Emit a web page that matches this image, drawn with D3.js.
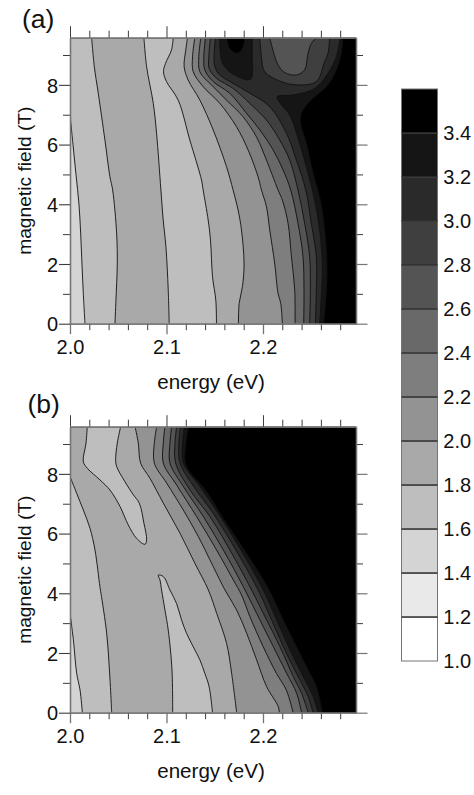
<!DOCTYPE html>
<html><head><meta charset="utf-8">
<style>html,body{margin:0;padding:0;background:#fff}svg{display:block}text{font-family:"Liberation Sans",Arial,sans-serif;fill:#111}</style>
<script src="https://cdn.jsdelivr.net/npm/d3@7"></script></head><body>
<svg id="c" width="474" height="795"></svg>
<script>
const E_MIN=2.0,E_MAX=2.2964,B_MAX=9.58;
const levels=[1.2,1.4,1.6,1.8,2.0,2.2,2.4,2.6,2.8,3.0,3.2,3.4];
const greys=["#ffffff","#e9e9e9","#d4d4d4","#bebebe","#a9a9a9","#939393","#7e7e7e","#696969","#545454","#3f3f3f","#2a2a2a","#151515","#000000"];
const majorE=[2.0,2.1,2.2];
const minorE=[2.02,2.04,2.06,2.08,2.12,2.14,2.16,2.18,2.22,2.24,2.26,2.28];
const majorB=[0,2,4,6,8];
const minorB=[1,3,5,7,9];
const barLabels=[1.0,1.2,1.4,1.6,1.8,2.0,2.2,2.4,2.6,2.8,3.0,3.2,3.4];

// panel (a) contours: [energy, field]
const a16=[[2.0155,0],[2.0138,1],[2.0124,2],[2.0111,3],[2.0093,4],[2.0062,5],[2.0031,6],[2.0,7]];
const a18a=[[2.0466,0],[2.0476,.79],[2.049,2],[2.0483,3.04],[2.0442,4.48],[2.0414,4.92],[2.0362,6.15],[2.0293,7.72],[2.0252,8.61],[2.0224,9.58]];
const a18b=[[2.1028,0],[2.1018,1.13],[2.0994,2.58],[2.0966,3.47],[2.0942,4.48],[2.0897,6.38],[2.0863,7.38],[2.0794,8.61],[2.0766,9.58]];
const a18c=[[2.1518,0],[2.1511,.79],[2.1477,1.57],[2.1456,2.8],[2.1432,3.47],[2.138,4.48],[2.1363,4.81],[2.1242,6.15],[2.1121,7.49],[2.1,8.11],[2.0969,8.44],[2.099,8.72],[2.1052,9.17],[2.107,9.58]];
const a20=[[2.1746,0],[2.1753,.68],[2.1787,1.24],[2.1804,2],[2.1777,3.14],[2.1742,3.81],[2.169,4.48],[2.1622,5.26],[2.1484,6.49],[2.1346,7.49],[2.1225,8.16],[2.1183,8.61],[2.12,9.17],[2.1218,9.58]];
const a22=[[2.2201,0],[2.2184,.68],[2.2156,1.02],[2.2122,2],[2.207,3.14],[2.2036,3.92],[2.1984,4.48],[2.1949,4.92],[2.1846,5.82],[2.1725,6.6],[2.1553,7.38],[2.138,7.94],[2.1277,8.44],[2.127,8.94],[2.1294,9.58]];
const a24=[[2.2332,0],[2.2329,1.13],[2.2295,2.24],[2.226,3.36],[2.2201,4.14],[2.2156,4.48],[2.2036,5.48],[2.1932,6.26],[2.1794,6.93],[2.1622,7.49],[2.1484,7.94],[2.1346,8.44],[2.1335,8.94],[2.1356,9.58]];
const a26=[[2.2422,0],[2.2425,1.13],[2.2415,2.24],[2.2363,3.36],[2.2287,4.48],[2.2208,5.15],[2.2105,5.82],[2.1967,6.49],[2.1829,7.05],[2.1656,7.72],[2.1484,8.11],[2.1397,8.5],[2.1387,8.94],[2.1404,9.58]];
const a28=[[2.2484,0],[2.2491,1.13],[2.2484,2.24],[2.2432,3.36],[2.2363,4.48],[2.2277,5.48],[2.2174,6.15],[2.2036,6.82],[2.1863,7.38],[2.1691,7.88],[2.1518,8.22],[2.1442,8.55],[2.1439,8.94],[2.1456,9.58]];
const a30=[[2.2543,0],[2.2553,1.13],[2.2553,2.24],[2.2501,3.36],[2.2443,4.48],[2.2346,5.48],[2.2243,6.38],[2.207,7.27],[2.1863,7.72],[2.1691,8.05],[2.1553,8.33],[2.1501,8.61],[2.1494,9.06],[2.1508,9.58]];
const a30valley=[[2.1967,9.58],[2.1984,8.94],[2.2018,8.44],[2.2174,8.13],[2.2346,8.0],[2.2553,8.11],[2.2639,8.78],[2.2674,9.06],[2.2691,9.58]];
const a28valley=[[2.207,9.58],[2.2156,8.67],[2.2226,8.41],[2.2346,8.33],[2.2432,8.5],[2.2467,9.06],[2.2501,9.39],[2.2553,9.58]];
const a32peak=[[2.1553,9.58],[2.1581,8.72],[2.1691,8.36],[2.1871,8.19],[2.1888,8.94],[2.1888,9.58]];
const a34peak=[[2.1622,9.58],[2.1656,9.22],[2.1725,9.06],[2.1787,9.22],[2.1811,9.58]];
const a32=[[2.2587,0],[2.2608,1.13],[2.2615,2],[2.2587,3.14],[2.2536,4.14],[2.2467,5.04],[2.238,6.04],[2.2277,6.99],[2.2191,7.33],[2.2146,7.6],[2.2312,7.66],[2.2536,7.88],[2.2674,8.39],[2.276,8.94],[2.2801,9.58]];
const a34=[[2.2629,0],[2.2657,1.13],[2.2663,2],[2.2639,3.14],[2.2594,4.14],[2.2519,5.04],[2.245,6.04],[2.2391,6.71],[2.2398,7.05],[2.2484,7.44],[2.2674,8],[2.276,8.5],[2.2812,9.06],[2.2829,9.58]];

// panel (b) contours: [energy, field]
const b16=[[2.0128,0],[2.0104,.76],[2.0069,1.32],[2.0035,2.44],[2.0,3.33]];
const b18=[[2.0432,0],[2.0415,1.09],[2.038,2.66],[2.0321,4.0],[2.031,4.22],[2.0259,5.45],[2.0207,6.18],[2.0138,6.79],[2.0069,7.35],[2.0,7.91]];
const b18top=[[2.0179,9.58],[2.0166,9.03],[2.0138,8.41],[2.0179,8.19],[2.031,7.8],[2.0414,7.46],[2.0518,6.91],[2.0604,6.29],[2.069,5.84],[2.0777,5.64],[2.0794,5.79],[2.0766,6.35],[2.0718,7.02],[2.0656,7.3],[2.0569,7.74],[2.0483,8.25],[2.0473,8.47],[2.049,9.03],[2.0525,9.58]];
const b18low=[[2.1064,0],[2.1057,1.43],[2.1018,2.77],[2.0984,3.44],[2.0949,4.11],[2.0932,4.45],[2.0915,4.61],[2.0967,4.56],[2.1036,4.11],[2.1104,3.66],[2.1156,3.11],[2.1208,2.66],[2.1277,2.21],[2.1346,1.77],[2.1397,1.32],[2.1442,.87],[2.1477,0]];
const b20=[[2.1727,0],[2.1675,1.32],[2.1623,2.32],[2.152,3.33],[2.1434,4.11],[2.1295,5.0],[2.114,6.01],[2.0967,7.02],[2.0829,7.85],[2.0732,8.36],[2.0708,9.03],[2.0674,9.58]];
const b22=[[2.2169,0],[2.2159,.2],[2.2038,.87],[2.1934,1.77],[2.1831,2.66],[2.1727,3.44],[2.1606,4.11],[2.1485,4.89],[2.133,5.9],[2.1174,6.79],[2.1002,7.69],[2.0874,8.36],[2.0874,9.03],[2.0898,9.58]];
const b24=[[2.2312,0],[2.2242,.76],[2.2139,1.32],[2.2002,2.21],[2.1864,3.22],[2.1778,3.94],[2.1692,4.45],[2.1519,5.45],[2.1312,6.57],[2.1104,7.63],[2.0967,8.36],[2.0967,9.03],[2.0984,9.58]];
const b26=[[2.24,0],[2.2349,.65],[2.2245,1.32],[2.2107,2.21],[2.1934,3.33],[2.1796,4.22],[2.1589,5.45],[2.1382,6.57],[2.1174,7.58],[2.1036,8.36],[2.1036,9.03],[2.1053,9.58]];
const b28=[[2.2469,0],[2.24,.65],[2.2314,1.21],[2.2176,2.21],[2.2037,3.11],[2.1882,4.11],[2.1657,5.45],[2.145,6.57],[2.1243,7.46],[2.1095,8.36],[2.1088,9.03],[2.1105,9.58]];
const b30=[[2.2519,0],[2.2468,.54],[2.2364,1.21],[2.2243,1.99],[2.2105,2.99],[2.195,4.11],[2.1708,5.51],[2.1484,6.68],[2.1295,7.52],[2.114,8.36],[2.1129,9.03],[2.1146,9.58]];
const b32=[[2.2572,0],[2.252,.54],[2.2417,1.21],[2.2296,1.99],[2.2158,2.99],[2.2002,4.11],[2.176,5.51],[2.1536,6.68],[2.1346,7.58],[2.1174,8.36],[2.1167,9.03],[2.1184,9.58]];
const b34=[[2.2616,0],[2.2554,.87],[2.2468,1.43],[2.2347,2.21],[2.2209,3.11],[2.2054,4.17],[2.1795,5.51],[2.1588,6.51],[2.1415,7.41],[2.1202,8.3],[2.1202,9.03],[2.1226,9.58]];

// painter's order: which contour, the value on its high side, how it closes
const layersA=[[a16,1.7,"wide"],[a18a,1.9,"right"],[a18b,1.7,"right"],[a18c,1.9,"right"],[a20,2.1,"right"],[a22,2.3,"right"],[a24,2.5,"right"],[a26,2.7,"right"],[a28,2.9,"right"],[a30,3.1,"right"],[a30valley,2.9,"self"],[a28valley,2.7,"self"],[a32peak,3.3,"self"],[a34peak,3.5,"self"],[a32,3.3,"right"],[a34,3.5,"right"]];
const layersB=[[b16,1.7,"wide"],[b18,1.9,"wide"],[b18top,1.7,"self"],[b18low,1.7,"self"],[b20,2.1,"right"],[b22,2.3,"right"],[b24,2.5,"right"],[b26,2.7,"right"],[b28,2.9,"right"],[b30,3.1,"right"],[b32,3.3,"right"],[b34,3.5,"right"]];

const svg=d3.select("#c");
const color=d3.scaleThreshold().domain(levels).range(greys);
const FRAME="#757575", TICK="#3c3c3c", INK="#111";
const FS=20;

function panel(layers,yBottom,yTop,tag,tagX,tagBase,xLabBase,eLabBase,clipId){
  const x=d3.scaleLinear().domain([E_MIN,E_MAX]).range([70,356]);
  const y=d3.scaleLinear().domain([0,B_MAX]).range([yBottom,yTop]);
  const g=svg.append("g");
  g.append("clipPath").attr("id",clipId).append("rect").attr("x",x(E_MIN)).attr("y",yTop).attr("width",x(E_MAX)-x(E_MIN)).attr("height",yBottom-yTop);
  const plot=g.append("g").attr("clip-path",`url(#${clipId})`);
  plot.append("rect").attr("x",x(E_MIN)).attr("y",yTop).attr("width",x(E_MAX)-x(E_MIN)).attr("height",yBottom-yTop).attr("fill",color(1.5));
  const line=d3.line().x(d=>x(d[0])).y(d=>y(d[1])).curve(d3.curveCatmullRom.alpha(0.5));
  const closers={
    wide:[[E_MIN,B_MAX],[E_MAX,B_MAX],[E_MAX,0]],
    right:[[E_MAX,B_MAX],[E_MAX,0]],
    self:[]
  };
  layers.forEach(([pts,val,kind])=>{
    const extra=closers[kind].map(p=>`L${x(p[0])},${y(p[1])}`).join("");
    plot.append("path").attr("d",line(pts)+extra+"Z").attr("fill",color(val)).attr("stroke","none");
    plot.append("path").attr("d",line(pts)).attr("fill","none").attr("stroke",INK).attr("stroke-width",0.9);
  });
  function axis(gen,tx,ty,vals,size,labels,stroke,sw){
    const a=g.append("g").attr("transform",`translate(${tx},${ty})`)
      .call(gen.tickValues(vals).tickSize(size).tickSizeOuter(0).tickPadding(labels?3:0).tickFormat(labels||""));
    a.selectAll("line").attr("stroke",stroke||TICK).attr("stroke-width",sw||1);
    a.selectAll("path").attr("stroke",FRAME).attr("stroke-width",1.3);
    return a;
  }
  axis(d3.axisBottom(x),0,yBottom,minorE,6.5);
  axis(d3.axisTop(x),0,yTop,minorE,7);
  axis(d3.axisLeft(y),70,0,minorB,7);
  axis(d3.axisRight(y),356,0,minorB,7);
  axis(d3.axisTop(x),0,yTop,majorE,11.5);
  axis(d3.axisRight(y),356,0,majorB,11.5,null,FRAME,1.2);
  const xa=axis(d3.axisBottom(x),0,yBottom,majorE,10.5,d3.format(".1f"),FRAME,1.3);
  xa.selectAll("text").attr("font-size",FS).attr("y",null).attr("dy",null).attr("transform",`translate(0,${xLabBase-yBottom})`).attr("fill",INK).attr("text-anchor","middle");
  const ya=axis(d3.axisLeft(y),70,0,majorB,11,d3.format("d"),TICK,1.1);
  ya.selectAll("text").attr("font-size",FS).attr("x",-12).attr("dy","0.36em").attr("fill",INK);
  g.append("text").attr("x",211).attr("y",eLabBase).attr("text-anchor","middle").attr("font-size",20.6).text("energy (eV)");
  g.append("text").attr("transform",`translate(31,${(yTop+yBottom)/2}) rotate(-90)`).attr("text-anchor","middle").attr("font-size",19.2).text("magnetic field (T)");
  g.append("text").attr("x",tagX).attr("y",tagBase).attr("font-size",26.5).text(tag);
}
panel(layersA,323.7,37.7,"(a)",22,28,354,389,"clipA");
panel(layersB,712.7,426.7,"(b)",27.5,413,743,778,"clipB");

// colour bar
const barY=d3.scaleLinear().domain([1.0,3.4]).range([661,133]);
const barG=svg.append("g");
const barEdges=[1.0,...levels,3.6];
barG.selectAll("rect").data(greys).join("rect")
  .attr("x",401.5).attr("width",36)
  .attr("y",(d,i)=>barY(barEdges[i+1])).attr("height",(d,i)=>barY(barEdges[i])-barY(barEdges[i+1]))
  .attr("fill",d=>d).attr("stroke",FRAME).attr("stroke-width",1);
barG.selectAll("line").data(levels).join("line")
  .attr("x1",401.5).attr("x2",437.5).attr("y1",d=>barY(d)).attr("y2",d=>barY(d)).attr("stroke",INK).attr("stroke-width",1);
barG.selectAll("text").data(barLabels).join("text")
  .attr("x",443.3).attr("y",d=>barY(d)+7).attr("font-size",FS).text(d3.format(".1f"));
</script></body></html>
